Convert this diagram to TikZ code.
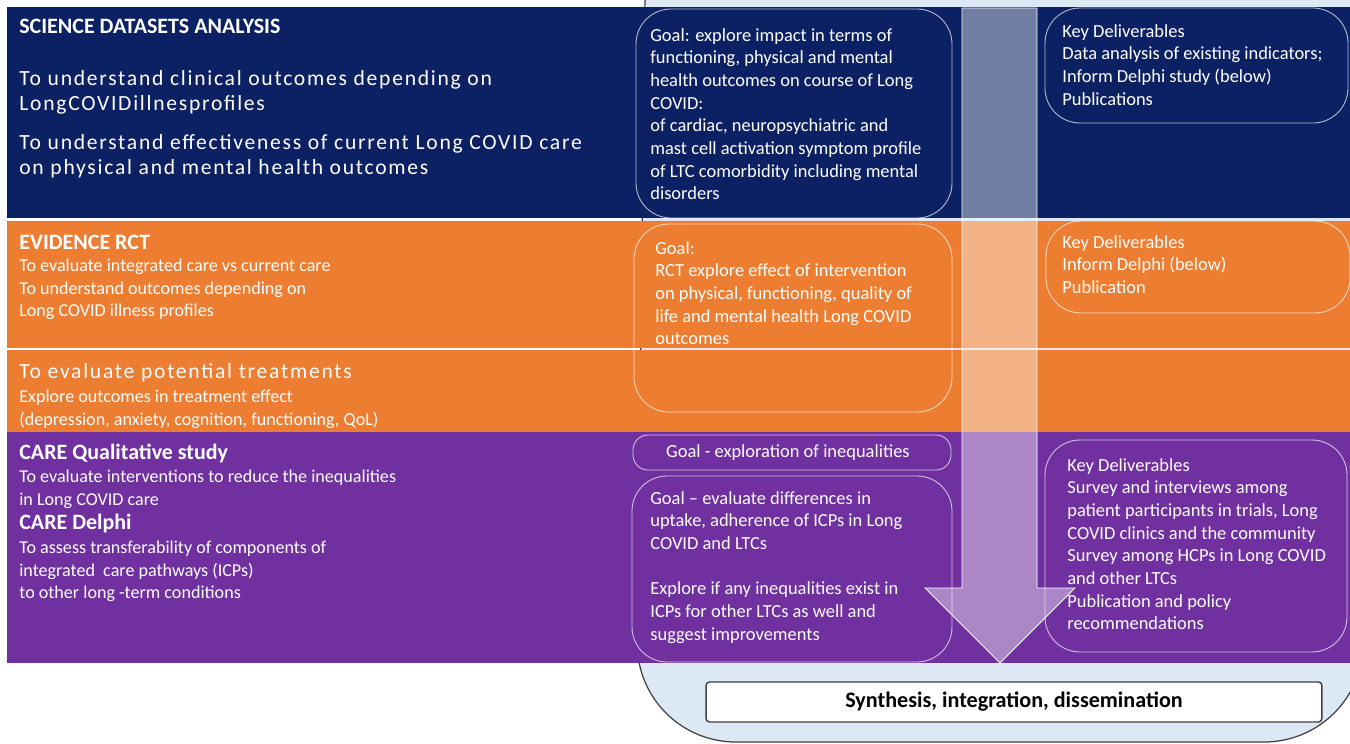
\documentclass[tikz,border=0pt]{standalone}
\usepackage{fontspec}
\setmainfont{Carlito}
\newfontfamily\widefont[LetterSpace=8]{Carlito}
\definecolor{navy}{HTML}{0B2163}
\definecolor{orng}{HTML}{ED7D31}
\definecolor{purp}{HTML}{7030A0}
\definecolor{pale}{HTML}{DCE9F5}
\definecolor{rim}{HTML}{404040}
\tikzset{
  rbox/.style={draw=white, draw opacity=0.7, line width=0.5pt, rounded corners=0.7cm},
  body/.style={anchor=north west, align=left, inner sep=0pt, text=white, font=\fontsize{10.5}{12.9}\selectfont},
  small/.style={body, font=\fontsize{10.3}{12.8}\selectfont},
  big/.style={body, font=\widefont\fontsize{12.3}{14.2}\selectfont},
  head/.style={body, font=\bfseries\fontsize{12.5}{12.8}\selectfont},
  synth/.style={draw=rim, fill=white, line width=0.8pt, rounded corners=2pt, minimum width=12.32cm, minimum height=0.8cm, font=\bfseries\fontsize{12.6}{13}\selectfont}
}
\begin{document}
\begin{tikzpicture}[x=0.02cm, y=-0.02cm]
\useasboundingbox (0,0) rectangle (1350,744);
\clip (0,0) rectangle (1350,744);

% container behind everything
\draw[fill=pale, draw=rim, line width=0.7pt, rounded corners=2cm] (645,-5) -- (636,742) -- (1364,742) -- (1358,-5);

% bands
\fill[navy] (7,7) rectangle (1350,218);
\fill[orng] (7,221) rectangle (1350,348);
\fill[orng] (7,350) rectangle (1350,432);
\fill[purp] (7,432) rectangle (1350,663);

% arrow
\draw[white, line width=0.5pt, fill=white, fill opacity=0.42] (962,8) -- (1037,8) -- (1037,588) -- (1075,588) -- (1000,663) -- (925,588) -- (962,588) -- cycle;

% boxes
\draw[rbox] (636,9) rectangle (952,218);
\draw[rbox] (634,224) rectangle (952,412);
\draw[rbox, rounded corners=0.3cm] (633,435) rectangle (951,470);
\draw[rbox] (632,476) rectangle (952,662);
\draw[rbox] (1045,8) rectangle (1348,123);
\draw[rbox] (1046,221) rectangle (1350,313);
\draw[rbox] (1045,440) rectangle (1347,652);

% left column
\node[head] (sciH) at (19,19) {SCIENCE DATASETS ANALYSIS};
\node[big] (sciA) at (19,70) {To understand clinical outcomes depending on\\LongCOVIDillnesprofiles};
\node[big] (sciB) at (19,134) {To understand effectiveness of current Long COVID care\\on physical and mental health outcomes};
\node[head] (rctH) at (19,235) {EVIDENCE RCT};
\node[small] (rctT) at (19,259) {To evaluate integrated care vs current care\\To understand outcomes depending on\\Long COVID illness profiles};
\node[big] (trtH) at (19,363) {To evaluate potential treatments};
\node[small] (trtT) at (19,390) {Explore outcomes in treatment effect\\(depression, anxiety, cognition, functioning, QoL)};
\node[head] (careH) at (19,444) {CARE Qualitative study};
\node[small] (careT) at (19,470) {To evaluate interventions to reduce the inequalities\\in Long COVID care};
\node[head] (delH) at (19,514) {CARE Delphi};
\node[small] (delT) at (19,541) {To assess transferability of components of\\integrated\ \ care pathways (ICPs)\\to other long -term conditions};

% goals
\node[body] (goalA) at (650,28) {Goal: explore impact in terms of\\functioning, physical and mental\\health outcomes on course of Long\\COVID:\\of cardiac, neuropsychiatric and\\mast cell activation symptom profile\\of LTC comorbidity including mental\\disorders};
\node[body] (goalB) at (655,241) {Goal:\\RCT explore effect of intervention\\on physical, functioning, quality of\\life and mental health Long COVID\\outcomes};
\node[body, anchor=center] (goalC) at (788,453) {Goal - exploration of inequalities};
\node[body] (goalD) at (650,491) {Goal -- evaluate differences in\\uptake, adherence of ICPs in Long\\COVID and LTCs\\[12.9pt]Explore if any inequalities exist in\\ICPs for other LTCs as well and\\suggest improvements};

% deliverables
\node[body] (delivA) at (1062,24) {Key Deliverables\\Data analysis of existing indicators;\\Inform Delphi study (below)\\Publications};
\node[body] (delivB) at (1062,235) {Key Deliverables\\Inform Delphi (below)\\Publication};
\node[body] (delivC) at (1067,458) {Key Deliverables\\Survey and interviews among\\patient participants in trials, Long\\COVID clinics and the community\\Survey among HCPs in Long COVID\\and other LTCs\\Publication and policy\\recommendations};

\node[synth] (synth) at (1014,702) {Synthesis, integration, dissemination};
\end{tikzpicture}
\end{document}
